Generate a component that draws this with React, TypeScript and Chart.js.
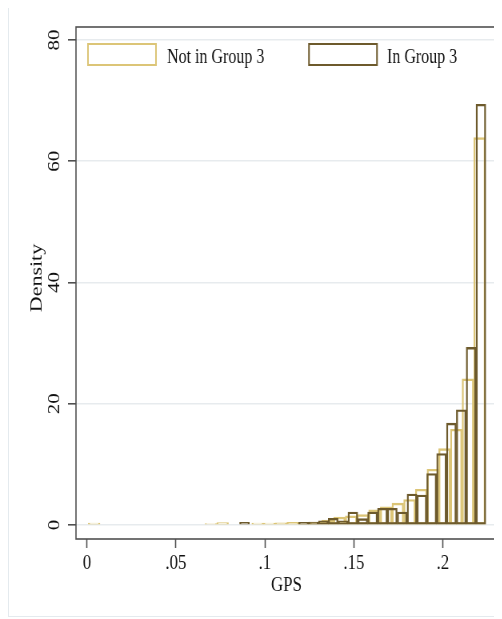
import { useEffect, useRef } from 'react';
import { Chart, registerables } from 'chart.js';

Chart.register(...registerables);

// ---------------- data ----------------
const SERIES_LABELS = ['Not in Group 3', 'In Group 3'];

// histogram bin centres (GPS) and densities, "Not in Group 3"
const NOT_G3_X = [
  0.00401, 0.06963, 0.07619, 0.09588, 0.10244, 0.109, 0.11557, 0.12213, 0.12869,
  0.13525, 0.14181, 0.14838, 0.15494, 0.1615, 0.16806, 0.17462, 0.18119, 0.18775,
  0.19431, 0.20087, 0.20743, 0.214, 0.22056,
];
const NOT_G3_Y = [
  0.3, 0.25, 0.4, 0.3, 0.3, 0.35, 0.45, 0.4, 0.45,
  0.8, 1.3, 1.5, 1.7, 2.5, 3.0, 3.6, 4.2, 5.9,
  9.2, 12.6, 15.8, 24.1, 63.9,
];

// histogram bin centres (GPS) and densities, "In Group 3"
const G3_X = [
  0.0885, 0.1217, 0.12724, 0.13277, 0.1383, 0.14384, 0.14937, 0.15491, 0.16044,
  0.16597, 0.17151, 0.17704, 0.18258, 0.18811, 0.19364, 0.19918, 0.20471, 0.21025,
  0.21578, 0.22131,
];
const G3_Y = [
  0.45, 0.45, 0.5, 0.7, 1.1, 0.7, 2.15, 1.05, 2.15,
  2.75, 2.75, 2.15, 5.1, 4.95, 8.5, 11.8, 16.8, 19.0,
  29.3, 69.4,
];

const X_TICKS = [0, 0.05, 0.1, 0.15, 0.2];
const X_TICK_LABELS = ['0', '.05', '.1', '.15', '.2'];
const Y_TICKS = [0, 20, 40, 60, 80];
const Y_TICK_LABELS = ['0', '20', '40', '60', '80'];
const X_TITLE = 'GPS';
const Y_TITLE = 'Density';

// ---------------- style ----------------
const FONT = '"Liberation Serif", "Times New Roman", serif';
const LIGHT = '#dcc577';
const DARK = '#6d5a2c';
const FRAME = '#505050';
const GRID = '#e7ebee';
const TEXT = '#111111';
const SQUISH = 0.8; // the reference is horizontally compressed
const CW = 618;
const CH = 614;

const X_MIN = -0.00618;
const X_MAX = 0.23034;
const Y_MIN = -2.309;
const Y_MAX = 82.144;

const decorPlugin = {
  id: 'stataDecor',
  afterDraw(chart: any) {
    const { ctx, chartArea: a, scales } = chart;
    const y = scales.y;
    ctx.save();
    // plot region frame
    ctx.strokeStyle = FRAME;
    ctx.lineWidth = 1.6;
    ctx.strokeRect(a.left, a.top, a.right - a.left, a.bottom - a.top);

    // rotated y tick labels
    ctx.fillStyle = TEXT;
    ctx.font = `21px ${FONT}`;
    ctx.textAlign = 'center';
    ctx.textBaseline = 'middle';
    Y_TICKS.forEach((v, i) => {
      const py = y.getPixelForValue(v);
      ctx.save();
      ctx.translate(a.left - 26.25, py);
      ctx.rotate(-Math.PI / 2);
      ctx.fillText(Y_TICK_LABELS[i], 0, 0);
      ctx.restore();
    });

    // y title
    ctx.save();
    ctx.translate(a.left - 48.5, (a.top + a.bottom) / 2 - 5);
    ctx.rotate(-Math.PI / 2);
    ctx.font = `22px ${FONT}`;
    ctx.fillText(Y_TITLE, 0, 0);
    ctx.restore();

    // legend inside plot region
    const boxOff = [15, 291.25];
    const textOff = [113.75, 388.75];
    chart.data.datasets.forEach((ds: any, i: number) => {
      ctx.strokeStyle = ds.borderColor;
      ctx.lineWidth = 2;
      ctx.strokeRect(a.left + boxOff[i], a.top + 17, 85, 21);
      ctx.fillStyle = TEXT;
      ctx.font = `20px ${FONT}`;
      ctx.textAlign = 'left';
      ctx.textBaseline = 'alphabetic';
      ctx.fillText(ds.label, a.left + textOff[i], a.top + 36);
    });
    ctx.restore();
  },
};

export default function App() {
  const ref = useRef<HTMLCanvasElement>(null);

  useEffect(() => {
    if (!ref.current) return;
    const chart = new Chart(ref.current, {
      type: 'bar',
      data: {
        datasets: [
          {
            label: SERIES_LABELS[0],
            data: NOT_G3_X.map((x, i) => ({ x, y: NOT_G3_Y[i] })),
            xAxisID: 'x',
            backgroundColor: 'rgba(0,0,0,0)',
            borderColor: LIGHT,
            borderWidth: 1.7,
            borderSkipped: false,
            barPercentage: 1,
            categoryPercentage: 1,
            grouped: false,
            order: 2,
          },
          {
            label: SERIES_LABELS[1],
            data: G3_X.map((x, i) => ({ x, y: G3_Y[i] })),
            xAxisID: 'x2',
            backgroundColor: 'rgba(0,0,0,0)',
            borderColor: DARK,
            borderWidth: 1.7,
            borderSkipped: false,
            barPercentage: 1,
            categoryPercentage: 1,
            grouped: false,
            order: 1,
          },
        ],
      } as any,
      options: {
        responsive: false,
        animation: false,
        events: [],
        layout: { padding: { left: 0, right: 6.75, top: 24, bottom: 0 } },
        plugins: {
          legend: { display: false },
          tooltip: { enabled: false },
          title: { display: false },
        },
        scales: {
          x: {
            type: 'linear',
            position: 'bottom',
            min: X_MIN,
            max: X_MAX,
            offset: false,
            afterBuildTicks: (s: any) => {
              s.ticks = X_TICKS.map((v) => ({ value: v }));
            },
            afterFit: (s: any) => {
              s.height = 78;
            },
            grid: {
              display: true,
              offset: false,
              drawOnChartArea: false,
              drawTicks: true,
              tickLength: 9,
              tickColor: FRAME,
              tickWidth: 1.6,
            },
            border: { display: false },
            ticks: {
              padding: 3,
              color: TEXT,
              font: { family: FONT, size: 21 },
              maxRotation: 0,
              autoSkip: false,
              callback: (v: any) => {
                const i = X_TICKS.findIndex((t) => Math.abs(t - Number(v)) < 1e-9);
                return i >= 0 ? X_TICK_LABELS[i] : '';
              },
            },
            title: {
              display: true,
              text: X_TITLE,
              color: TEXT,
              font: { family: FONT, size: 21 },
              padding: { top: 0, bottom: 19.4 },
            },
          },
          x2: {
            type: 'linear',
            position: 'bottom',
            display: false,
            min: X_MIN,
            max: X_MAX,
            offset: false,
            grid: { offset: false },
          },
          y: {
            type: 'linear',
            position: 'left',
            min: Y_MIN,
            max: Y_MAX,
            afterBuildTicks: (s: any) => {
              s.ticks = Y_TICKS.map((v) => ({ value: v }));
            },
            afterFit: (s: any) => {
              s.width = 85;
            },
            grid: {
              color: GRID,
              lineWidth: 1.6,
              drawTicks: true,
              tickLength: 10,
              tickColor: FRAME,
              tickWidth: 1.6,
            },
            border: { display: false },
            ticks: { display: false },
          },
        },
      } as any,
      plugins: [decorPlugin],
    });
    return () => chart.destroy();
  }, []);

  return (
    <div
      style={{
        marginTop: -5,
        width: 494,
        height: CH,
        overflow: 'hidden',
        position: 'relative',
        background: '#ffffff',
        boxShadow: 'inset 1px 1px 0 #e4eaee, inset 0 -1px 0 #e4eaee',
      }}
    >
      <div style={{ width: CW, height: CH, transform: `scaleX(${SQUISH})`, transformOrigin: '0 0' }}>
        <canvas ref={ref} width={CW} height={CH} style={{ display: 'block', width: CW, height: CH }} />
      </div>
    </div>
  );
}
